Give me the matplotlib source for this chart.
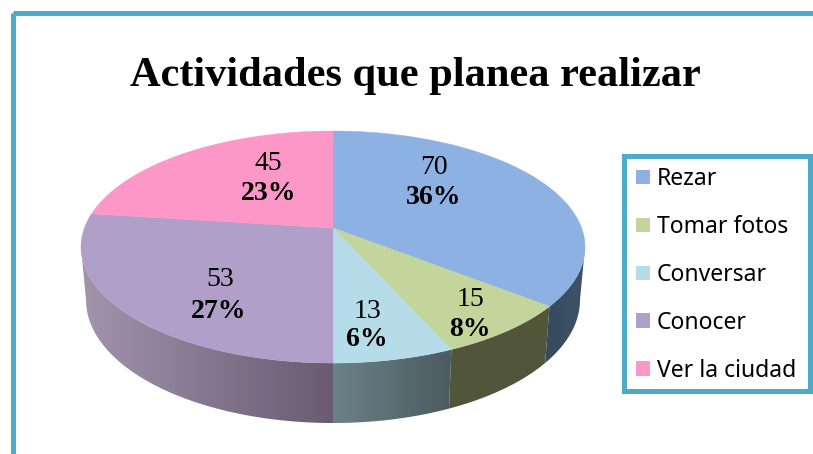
import matplotlib
matplotlib.use('Agg')
import matplotlib.pyplot as plt
import numpy as np
from matplotlib.colors import LinearSegmentedColormap
from matplotlib.patches import Patch, Polygon, Rectangle

categories = ['Rezar', 'Tomar fotos', 'Conversar', 'Conocer', 'Ver la ciudad']
values = [70, 15, 13, 53, 45]
percents = ['36%', '8%', '6%', '27%', '23%']
colors = ['#8db1e2', '#c3d59b', '#b5dce8', '#b09fc8', '#fd97c8']
# wall shading, left end then right end of each visible wall
side_colors = [('#364a5f', '#3f5368'), ('#51563b', '#51563b'), ('#6a8288', '#4c5b60'),
               ('#a294ad', '#6a5a72'), ('#a294ad', '#6a5a72')]

TEAL = '#4bacc6'

# perspective pie, everything in image pixels
cx, cy = 333, 228
a, b, k = 248.6, 112.9, 0.164


def top_rim(theta):
    # theta clockwise from 12 o'clock, radians
    x, y = np.sin(theta), np.cos(theta)
    d = 1 + k * y
    return cx + a * x / d, cy - b * y / d


def low_rim(theta):
    # bottom ellipse is the top one moved down and a bit narrower, taller
    sx, sy = top_rim(theta)
    return cx + 0.98 * (sx - cx), 300 + (sy - 247) * 1.06


fig = plt.figure(figsize=(8.13, 4.54), dpi=100)
ax = fig.add_axes([0, 0, 1, 1])
ax.axis('off')

# outer frame, runs off the image right and bottom
ax.add_patch(Rectangle((13.2, 12.5), 900, 600, fill=False, edgecolor=TEAL, linewidth=3.6))

edges = np.cumsum([0] + values) / sum(values) * 2 * np.pi

# walls, only between the widest points of the rim
widest = np.arcsin(k)
for i in range(len(values)):
    lo, hi = max(edges[i], np.pi / 2 + widest), min(edges[i + 1], 3 * np.pi / 2 - widest)
    if lo >= hi:
        continue
    ts = np.linspace(lo, hi, 80)
    xt, yt = top_rim(ts)
    xb, yb = low_rim(ts)
    pts = np.column_stack([np.r_[xt, xb[::-1]], np.r_[yt, yb[::-1]]])
    outline = Polygon(pts, closed=True, facecolor='none', edgecolor='none')
    ax.add_patch(outline)
    cmap = LinearSegmentedColormap.from_list('wall', side_colors[i])
    im = ax.imshow(np.linspace(0, 1, 128).reshape(1, -1), cmap=cmap, aspect='auto',
                   extent=(pts[:, 0].min(), pts[:, 0].max(), pts[:, 1].max(), pts[:, 1].min()),
                   zorder=1)
    im.set_clip_path(outline)

# top face
for i in range(len(values)):
    ts = np.linspace(edges[i], edges[i + 1], 120)
    xs, ys = top_rim(ts)
    pts = np.column_stack([np.r_[cx, xs], np.r_[cy, ys]])
    ax.add_patch(Polygon(pts, closed=True, facecolor=colors[i], edgecolor=colors[i],
                         linewidth=0.3, zorder=2))

ax.set_xlim(0, 813)
ax.set_ylim(454, 0)

# data labels
val_pos = [(434, 167), (470, 300), (367, 311), (220, 280), (268, 163)]
pct_pos = [(434, 198), (470, 329), (367, 340), (219, 311), (269, 193)]
for i in range(len(values)):
    ax.text(*val_pos[i], str(values[i]), ha='center', va='center', fontsize=20,
            family='Liberation Serif', color='black', zorder=3)
    ax.text(*pct_pos[i], percents[i], ha='center', va='center', fontsize=20,
            family='Liberation Serif', fontweight='bold', color='black', zorder=3)

ax.text(415, 76, 'Actividades que planea realizar', ha='center', va='center', fontsize=30.5,
        family='Liberation Serif', fontweight='bold', color='black')

# legend frame drawn apart, the built-in one leaves too much room under the last row
ax.add_patch(Rectangle((623.5, 155.5), 186, 235, facecolor='white', edgecolor=TEAL,
                       linewidth=3.6, zorder=3))
handles = [Patch(facecolor=c, edgecolor='none') for c in colors]
leg = ax.legend(handles, categories, loc='upper left', bbox_to_anchor=(622 / 813, 1 - 153 / 454),
                frameon=False, handlelength=0.6, handleheight=0.6,
                handletextpad=0.3, labelspacing=1.04, borderpad=0.62, borderaxespad=0,
                prop={'family': 'Noto Sans', 'size': 16.5})
leg.set_zorder(4)

plt.savefig('out.png', dpi=100)
